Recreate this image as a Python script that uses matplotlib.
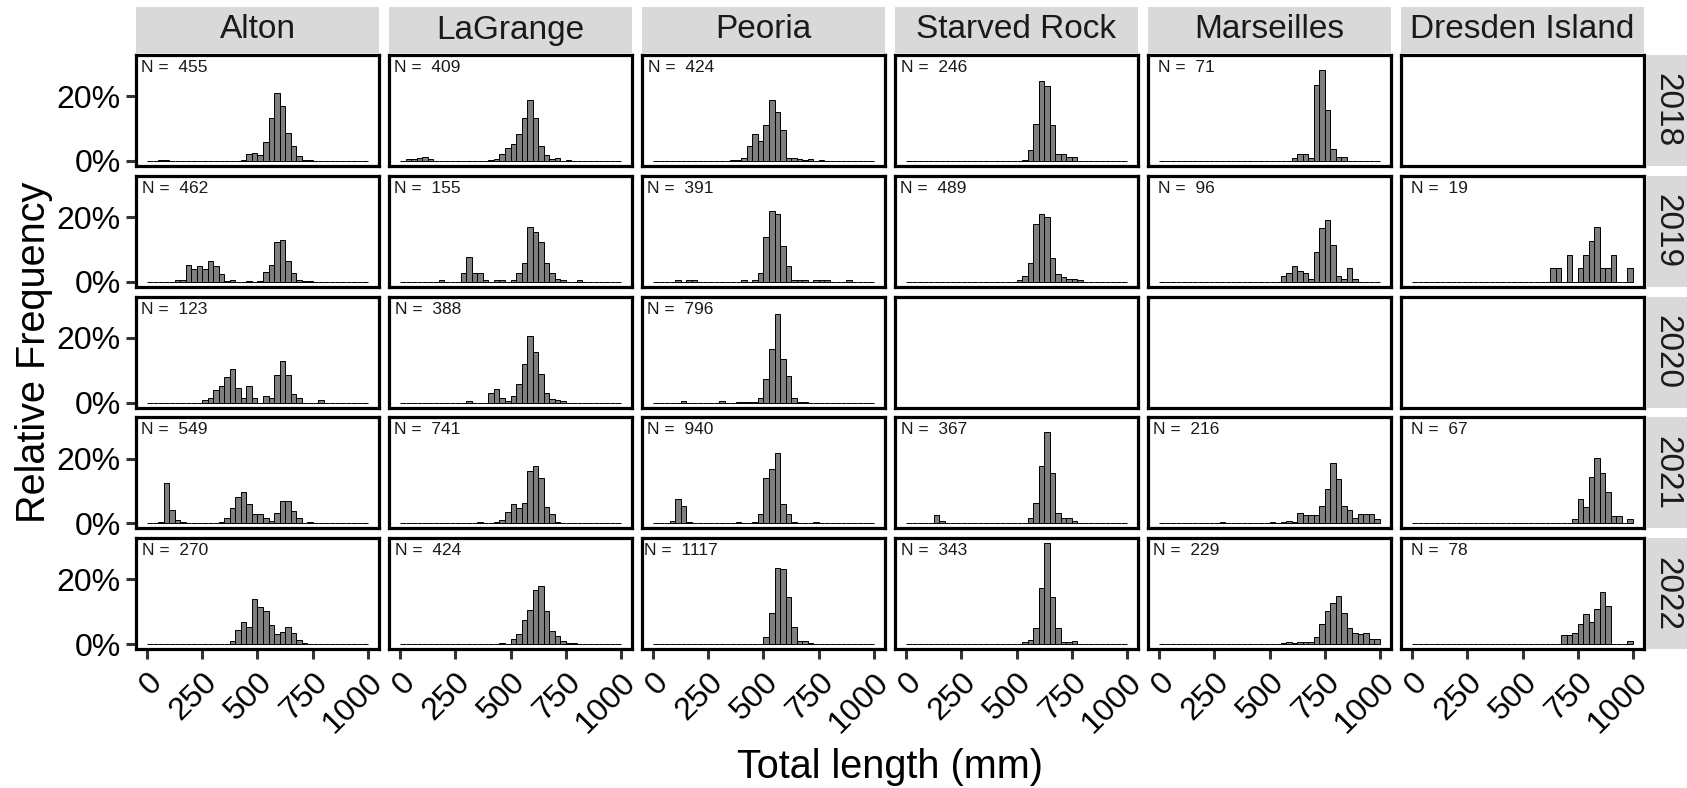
import matplotlib
matplotlib.use("Agg")
import matplotlib.pyplot as plt
import matplotlib.transforms as mtransforms
import numpy as np

plt.rcParams['font.family'] = ['Liberation Sans', 'DejaVu Sans']

sites = ["Alton", "LaGrange", "Peoria", "Starved Rock", "Marseilles", "Dresden Island"]
years = ["2018", "2019", "2020", "2021", "2022"]
bin_edges = list(range(0, 1001, 25))
x_ticks = [0, 250, 500, 750, 1000]
x_tick_labels = ["0", "250", "500", "750", "1000"]
y_ticks = [0, 20]
y_tick_labels = ["0%", "20%"]

# relative frequency (%) per 25-mm bin, 40 bins from 0 to 1000 mm
alton_2018 = [0,0,.3,.3,0,0,0,0,0,0, 0,0,0,0,0,0,0,.4,2.0,2.5, 1.8,5.9,13.3,21.0,17.1,8.6,4.5,1.6,.4,.4, 0,0,0,0,0,0,0,0,0,0]
lagrange_2018 = [0,.5,.7,.9,1.3,.6,0,0,0,0, 0,0,0,0,0,0,.3,.5,2.2,3.9, 5.2,8.3,13.3,19.0,13.3,4.7,1.9,.6,.8,0, .2,0,0,0,0,0,0,0,0,0]
peoria_2018 = [0,0,0,0,0,0,0,0,0,0, 0,0,0,0,.2,.2,1.0,4.5,8.3,6.2, 11.2,19.0,15.2,9.5,1.0,1.0,.6,.2,.6,0, .2,0,0,0,0,0,0,0,0,0]
starved_2018 = [0,0,0,0,0,0,0,0,0,0, 0,0,0,0,0,0,0,0,0,0, 0,.3,3.4,11.5,24.7,23.1,11.1,2.3,2.0,1.1, 1.1,0,0,0,0,0,0,0,0,0]
marseilles_2018 = [0,0,0,0,0,0,0,0,0,0, 0,0,0,0,0,0,0,0,0,0, 0,0,0,0,1.0,2.3,2.3,1.0,23.5,28.2, 15.9,3.6,1.2,1.2,0,0,0,0,0,0]
dresden_2018 = None

alton_2019 = [0,0,0,0,0,.6,.6,5.3,4.0,4.9, 4.0,6.4,4.9,2.3,.3,.6,0,0,.3,0, .3,2.9,5.3,12.2,13.0,6.4,2.7,.6,.3,.3, 0,0,0,0,0,0,0,0,0,0]
lagrange_2019 = [0,0,0,0,0,0,0,.5,0,0, 0,2.6,7.5,2.6,2.6,.5,0,.5,.5,0, .5,2.6,5.8,16.9,15.3,12.2,5.8,2.6,1.0,.5, 0,0,.5,0,0,0,0,0,0,0]
peoria_2019 = [0,0,0,0,.4,0,.4,.4,0,0, 0,0,0,0,0,0,.4,0,.6,2.7, 13.8,22.0,20.9,11.0,4.9,.6,.6,.6,0,.4, .4,.4,0,0,0,.4,0,0,0,0]
starved_2019 = [0,0,0,0,0,0,0,0,0,0, 0,0,0,0,0,0,0,0,0,0, .6,1.9,5.7,17.9,20.8,20.0,7.3,2.3,1.5,.8, .8,.4,0,0,0,0,0,0,0,0]
marseilles_2019 = [0,0,0,0,0,0,0,0,0,0, 0,0,0,0,0,0,0,0,0,0, 0,0,1.7,2.6,4.9,3.4,2.6,.8,9.3,16.6, 19.2,11.4,1.7,.8,4.1,.8,0,0,0,0]
dresden_2019 = [0,0,0,0,0,0,0,0,0,0, 0,0,0,0,0,0,0,0,0,0, 0,0,0,0,0,4.2,4.2,0,8.3,0, 4.2,8.3,12.6,16.9,4.2,4.2,8.3,0,0,4.2]

alton_2020 = [0,0,0,0,0,0,0,0,0,0, .65,1.3,3.9,5.2,7.8,10.4,4.6,1.3,5.2,1.3, 0,1.9,1.3,8.4,13.0,8.4,2.6,1.3,0,0, 0,.65,0,0,0,0,0,0,0,0]
lagrange_2020 = [0,0,0,0,0,0,0,0,0,0, 0,0,.4,0,0,0,3.0,4.2,1.5,.6, 2.0,5.7,11.9,20.6,15.7,8.7,2.8,1.1,.8,.4, 0,0,0,0,0,0,0,0,0,0]
peoria_2020 = [0,0,0,0,0,.4,0,0,0,0, 0,0,.4,0,0,.3,.3,.3,.3,1.5, 7.2,16.7,27.5,13.6,8.3,1.5,.3,.3,0,0, 0,0,0,0,0,0,0,0,0,0]
starved_2020 = None
marseilles_2020 = None
dresden_2020 = None

alton_2021 = [0,0,.4,12.4,4.0,1.1,.4,0,0,0, 0,0,0,.4,1.6,4.7,8.1,9.7,6.1,2.8, 2.8,1.6,.8,3.2,7.0,7.0,3.9,1.6,0,.4, 0,0,0,0,0,0,0,0,0,0]
lagrange_2021 = [0,0,0,0,0,0,0,0,0,0, 0,0,0,0,.3,0,0,.3,1.1,3.6, 5.9,4.7,6.3,16.2,17.7,13.9,5.2,2.8,.4,0, 0,0,0,0,0,0,0,0,0,0]
peoria_2021 = [0,0,0,.8,7.4,5.5,.4,0,0,0, 0,0,0,0,0,.4,0,0,.3,2.8, 13.9,16.7,21.6,5.9,2.8,.4,0,0,0,.4, 0,0,0,0,0,0,0,0,0,0]
starved_2021 = [0,0,0,0,0,2.5,.8,0,0,0, 0,0,0,0,0,0,0,0,0,0, 0,0,1.6,6.3,17.7,28.1,15.5,3.2,1.6,1.6, .8,0,0,0,0,0,0,0,0,0]
marseilles_2021 = [0,0,0,0,0,0,0,0,0,0, 0,.4,0,0,0,0,0,0,0,0, .4,0,.4,.7,.4,3.2,2.5,2.5,2.5,5.5, 10.5,18.6,13.7,5.5,4.0,1.6,2.8,2.8,2.8,1.2]
dresden_2021 = [0,0,0,0,0,0,0,0,0,0, 0,0,0,0,0,0,0,0,0,0, 0,0,0,0,0,0,0,0,0,1.2, 7.4,5.0,14.3,20.3,15.5,9.7,2.4,2.4,0,1.2]

alton_2022 = [0,0,0,0,0,0,0,0,0,0, 0,0,0,0,0,1.0,4.4,6.8,5.4,13.9, 11.6,10.3,5.9,3.0,3.7,5.4,3.3,1.2,.4,0, 0,0,0,0,0,0,0,0,0,0]
lagrange_2022 = [0,0,0,0,0,0,0,0,0,0, 0,0,0,0,0,0,0,0,.4,0, 1.5,3.0,7.5,10.7,16.7,18.1,10.4,4.1,2.5,1.0, .4,.4,0,0,0,0,0,0,0,0]
peoria_2022 = [0,0,0,0,0,0,0,0,0,0, 0,0,0,0,0,0,0,0,0,0, 2.2,9.6,23.5,23.2,14.6,5.4,.9,.9,.5,0, 0,0,0,0,0,0,0,0,0,0]
starved_2022 = [0,0,0,0,0,0,0,0,0,0, 0,0,0,0,0,0,0,0,0,0, 0,.6,1.4,4.9,17.3,31.2,14.6,4.9,.6,.6, 1.0,0,0,0,0,0,0,0,0,0]
marseilles_2022 = [0,0,0,0,0,0,0,0,0,0, 0,0,0,0,0,0,0,0,0,0, 0,0,.3,.7,.3,.7,.7,.7,2.3,6.1, 10.3,12.6,15.0,9.6,4.9,3.3,3.0,3.3,1.5,1.5]
dresden_2022 = [0,0,0,0,0,0,0,0,0,0, 0,0,0,0,0,0,0,0,0,0, 0,0,0,0,0,0,0,2.8,2.8,3.5, 6.1,9.3,6.9,11.0,16.1,11.9,0,0,0,1.0]

n_2018 = [455, 409, 424, 246, 71, None]
n_2019 = [462, 155, 391, 489, 96, 19]
n_2020 = [123, 388, 796, None, None, None]
n_2021 = [549, 741, 940, 367, 216, 67]
n_2022 = [270, 424, 1117, 343, 229, 78]

grid = [
    [alton_2018, lagrange_2018, peoria_2018, starved_2018, marseilles_2018, dresden_2018],
    [alton_2019, lagrange_2019, peoria_2019, starved_2019, marseilles_2019, dresden_2019],
    [alton_2020, lagrange_2020, peoria_2020, starved_2020, marseilles_2020, dresden_2020],
    [alton_2021, lagrange_2021, peoria_2021, starved_2021, marseilles_2021, dresden_2021],
    [alton_2022, lagrange_2022, peoria_2022, starved_2022, marseilles_2022, dresden_2022],
]
n_grid = [n_2018, n_2019, n_2020, n_2021, n_2022]

W, H = 1687, 788
fig = plt.figure(figsize=(W / 100, H / 100), dpi=100)
fig.patch.set_facecolor("white")

col_left0, col_step, pw = 136, 253, 243
row_top0, row_step, ph = 55, 120.8, 111
ymax = max(max(v) for row in grid for v in row if v is not None)
ylim = (-0.05 * ymax, 1.05 * ymax)
strip_gray = "#D9D9D9"
txt_col = "#1A1A1A"

left_edges = bin_edges[:-1]
for r, year in enumerate(years):
    for c, site in enumerate(sites):
        x0 = col_left0 + c * col_step
        y0 = row_top0 + r * row_step
        ax = fig.add_axes([x0 / W, 1 - (y0 + ph) / H, pw / W, ph / H])
        vals = grid[r][c]
        if vals is not None:
            ax.bar(left_edges, vals, width=25, align="edge",
                   color="#7F7F7F", edgecolor="black", linewidth=0.7)
        n = n_grid[r][c]
        if n is not None:
            ax.text(125, 0.955, f"N =  {n}",
                    transform=mtransforms.blended_transform_factory(ax.transData, ax.transAxes),
                    ha="center", va="top", fontsize=12.5, color=txt_col)
        ax.set_xlim(-50, 1050)
        ax.set_ylim(*ylim)
        for sp in ax.spines.values():
            sp.set_linewidth(2.3)
            sp.set_color("black")
        ax.tick_params(length=7, width=2.2, color="#333333", labelsize=23,
                       labelcolor="black")
        ax.set_xticks(x_ticks)
        ax.set_yticks(y_ticks)
        if r == len(years) - 1:
            ax.set_xticklabels(x_tick_labels)
            ax.tick_params(axis="x", pad=6)
            for lab in ax.get_xticklabels():
                lab.set_rotation(45)
                lab.set_ha("right")
                lab.set_va("top")
                lab.set_rotation_mode("anchor")
        else:
            ax.tick_params(axis="x", length=0, labelbottom=False)
        if c == 0:
            ax.set_yticklabels(y_tick_labels)
            ax.tick_params(axis="y", pad=4)
        else:
            ax.tick_params(axis="y", length=0, labelleft=False)

# top strips
for c, site in enumerate(sites):
    x0 = col_left0 + c * col_step
    sax = fig.add_axes([x0 / W, 1 - 53 / H, pw / W, 46 / H])
    sax.set_facecolor(strip_gray)
    sax.set_xticks([]); sax.set_yticks([])
    for sp in sax.spines.values():
        sp.set_visible(False)
    sax.text(0.5, 0.5, site, ha="center", va="center", fontsize=24,
             color=txt_col, transform=sax.transAxes)

# right strips
for r, year in enumerate(years):
    y0 = row_top0 + r * row_step
    sax = fig.add_axes([1646 / W, 1 - (y0 + ph) / H, 41 / W, ph / H])
    sax.set_facecolor(strip_gray)
    sax.set_xticks([]); sax.set_yticks([])
    for sp in sax.spines.values():
        sp.set_visible(False)
    sax.text(0.5, 0.5, year, ha="center", va="center", fontsize=24,
             rotation=-90, color=txt_col, transform=sax.transAxes)

fig.text(34 / W, 1 - 352 / H, "Relative Frequency", rotation=90,
         ha="center", va="center", fontsize=28.5, color="black")
fig.text(890 / W, 1 - 767 / H, "Total length (mm)",
         ha="center", va="center", fontsize=28.5, color="black")

fig.savefig("out.png", dpi=100)
